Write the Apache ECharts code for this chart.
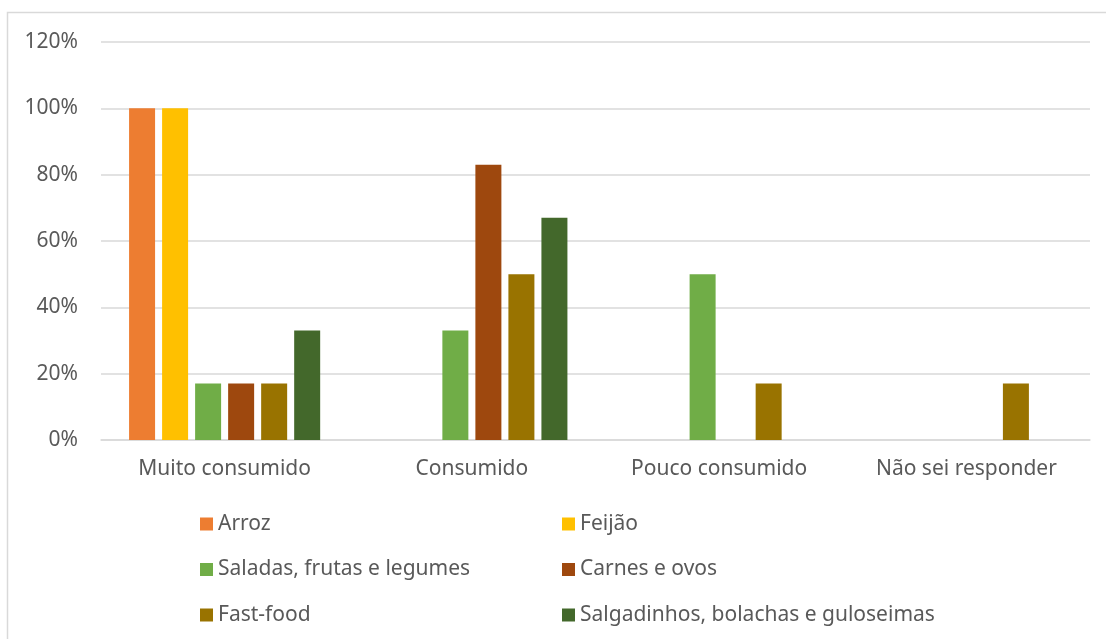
<!DOCTYPE html>
<html><head><meta charset="utf-8">
<script src="https://cdn.jsdelivr.net/npm/echarts@6/dist/echarts.min.js"></script>
<style>html,body{margin:0;padding:0;background:#fff}#c{width:1106px;height:639px}</style>
</head><body><div id="c"></div>
<script>
const categories = ['Muito consumido', 'Consumido', 'Pouco consumido', 'Não sei responder'];
const seriesNames = ['Arroz', 'Feijão', 'Saladas, frutas e legumes', 'Carnes e ovos', 'Fast-food', 'Salgadinhos, bolachas e guloseimas'];
const arroz = [100, 0, 0, 0];
const feijao = [100, 0, 0, 0];
const saladas = [17, 33, 50, 0];
const carnes = [17, 83, 0, 0];
const fastfood = [17, 50, 17, 17];
const salgadinhos = [33, 67, 0, 0];
const yTicks = [0, 20, 40, 60, 80, 100, 120];

const colors = ['#ED7D31', '#FFC000', '#70AD47', '#9E480E', '#997300', '#43682B'];
const dataArr = [arroz, feijao, saladas, carnes, fastfood, salgadinhos];
const font = 'Noto Sans';
const chart = echarts.init(document.getElementById('c'));
chart.setOption({
  animation: false,
  color: colors,
  graphic: [{type: 'rect', shape: {x: 7.5, y: 12.5, width: 1200, height: 800}, style: {fill: 'none', stroke: '#d9d9d9', lineWidth: 1.5}, silent: true}],
  grid: {left: 101, right: 16, top: 42, bottom: 199},
  legend: [
    {orient: 'vertical', left: 195, top: 507, itemWidth: 13, itemHeight: 13, icon: 'rect', itemGap: 21.5,
     data: [seriesNames[0], seriesNames[2], seriesNames[4]],
     textStyle: {fontFamily: font, fontSize: 21, color: '#595959', lineHeight: 24}},
    {orient: 'vertical', left: 557, top: 507, itemWidth: 13, itemHeight: 13, icon: 'rect', itemGap: 21.5,
     data: [seriesNames[1], seriesNames[3], seriesNames[5]],
     textStyle: {fontFamily: font, fontSize: 21, color: '#595959', lineHeight: 24}}
  ],
  xAxis: {
    type: 'category', data: categories,
    axisLine: {lineStyle: {color: '#d9d9d9', width: 1.5}},
    axisTick: {show: false},
    axisLabel: {fontFamily: font, fontSize: 21, color: '#595959', margin: 19}
  },
  yAxis: {
    type: 'value', min: 0, max: 120, interval: 20,
    axisLine: {show: false}, axisTick: {show: false},
    splitLine: {lineStyle: {color: '#d9d9d9', width: 1.5}},
    axisLabel: {fontFamily: font, fontSize: 21, color: '#595959', margin: 23, formatter: v => yTicks.includes(v) ? v + '%' : ''}
  },
  series: seriesNames.map((n, i) => ({
    name: n, type: 'bar', data: dataArr[i], barWidth: 26, barGap: '27%'
  }))
});
</script></body></html>
